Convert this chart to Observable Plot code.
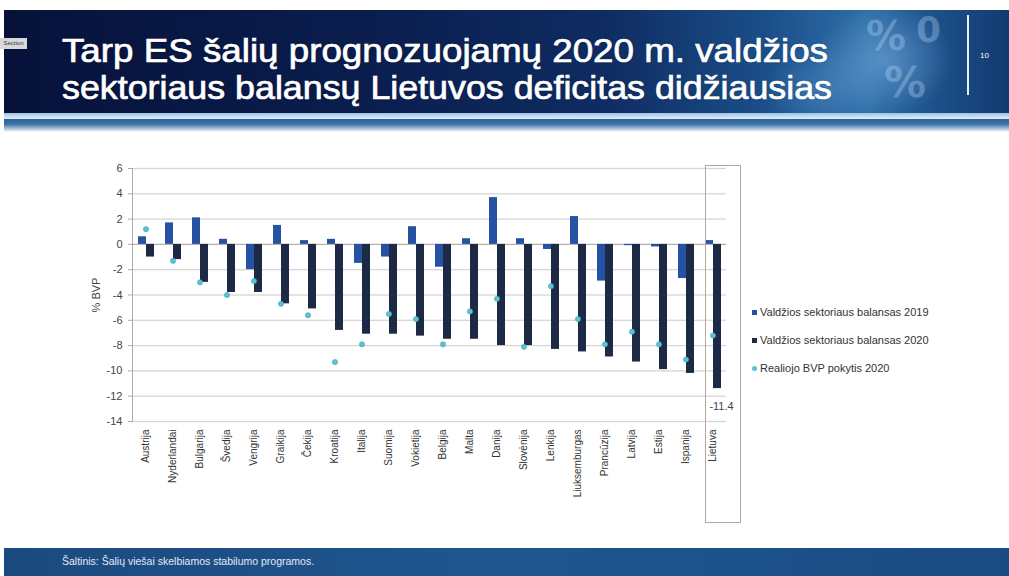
<!DOCTYPE html>
<html><head><meta charset="utf-8">
<script src="https://cdn.jsdelivr.net/npm/d3@7"></script>
<script src="https://cdn.jsdelivr.net/npm/@observablehq/plot@0.6"></script>
<style>
html,body{margin:0;padding:0;background:#fff;}
#page{position:relative;width:1009px;height:576px;overflow:hidden;font-family:"Liberation Sans",Arial,sans-serif;background:#fff;}
#header{position:absolute;left:4px;top:10px;width:1005px;height:104px;overflow:hidden;
 background:
  radial-gradient(ellipse 70px 55px at 880px 50px, rgba(120,175,225,0.55), rgba(120,175,225,0) 100%),
  radial-gradient(ellipse 60px 45px at 820px 80px, rgba(90,150,210,0.45), rgba(90,150,210,0) 100%),
  linear-gradient(90deg,#06123a 0%,#0a1d4d 35%,#0f2c62 60%,#1b4f8a 76%,#2f6ea8 86%,#1c4f88 93%,#123a70 100%);}
#glow{position:absolute;left:4px;top:113px;width:1005px;height:6px;background:linear-gradient(180deg,#9fc3e3,#dfeefa);}
#band{position:absolute;left:4px;top:119px;width:1005px;height:13px;background:linear-gradient(180deg,#2c6296,#3d73a6 40%,#c9d9e8 85%,#fff);}
.deco{position:absolute;color:rgba(185,215,245,0.35);font-family:"DejaVu Sans",sans-serif;font-weight:bold;line-height:1;}
.title{position:absolute;left:62px;color:#fff;font-family:"Liberation Sans",Arial,sans-serif;font-weight:normal;font-size:32.5px;line-height:normal;white-space:nowrap;transform-origin:0 0;-webkit-text-stroke:0.7px #fff;text-shadow:0 0 2px rgba(0,0,0,0.4);}
#sect{position:absolute;left:0;top:38px;width:27px;height:11px;background:#d8d8d8;color:#333;font-size:6px;line-height:11px;text-align:center;}
#vline{position:absolute;left:967px;top:15px;width:2px;height:80px;background:#e8eef5;}
#pnum{position:absolute;left:980px;top:51px;color:#fff;font-size:8px;}
#chart{position:absolute;left:60px;top:150px;}
#box{position:absolute;border:1.5px solid #b7a49c;box-sizing:border-box;}
#legend{position:absolute;left:752px;top:305px;font-size:11px;color:#333;}
.li{position:relative;height:28px;line-height:14px;white-space:nowrap;}
.sw{display:inline-block;width:5px;height:5px;margin-right:3px;vertical-align:1px;}
#footer{position:absolute;left:4px;top:548px;width:1005px;height:28px;background:linear-gradient(90deg,#1b4a7f,#1f568f 50%,#1a4b82);}
#ftext{position:absolute;left:62px;top:555px;color:#e2ebf3;font-size:10.5px;}
</style></head>
<body><div id="page">
<div id="header">
 <div class="deco" style="left:862px;top:6px;font-size:40px;">%</div>
 <div class="deco" style="left:912px;top:2px;font-size:36px;">0</div>
 <div class="deco" style="left:880px;top:52px;font-size:42px;">%</div>
</div>
<div id="glow"></div><div id="band"></div>
<div id="sect">Section</div>
<div id="vline"></div><div id="pnum">10</div>
<div class="title" id="t1" style="top:32.5px;">Tarp ES šalių prognozuojamų 2020 m. valdžios</div>
<div class="title" id="t2" style="top:69.5px;">sektoriaus balansų Lietuvos deficitas didžiausias</div>
<div id="chart"></div>
<div id="legend"></div>
<div id="footer"></div>
<div id="ftext">Šaltinis: Šalių viešai skelbiamos stabilumo programos.</div>
</div>
<script>
const countries = ["Austrija","Nyderlandai","Bulgarija","Švedija","Vengrija","Graikija","Čekija","Kroatija","Italija","Suomija","Vokietija","Belgija","Malta","Danija","Slovėnija","Lenkija","Liuksemburgas","Prancūzija","Latvija","Estija","Ispanija","Lietuva"];
const bal2019 = [0.6, 1.7, 2.1, 0.4, -2.0, 1.5, 0.3, 0.4, -1.5, -1.0, 1.4, -1.8, 0.45, 3.7, 0.45, -0.4, 2.2, -2.9, -0.1, -0.2, -2.7, 0.3];
const bal2020 = [-1.0, -1.2, -3.0, -3.8, -3.8, -4.7, -5.1, -6.8, -7.1, -7.1, -7.25, -7.5, -7.5, -8.0, -8.0, -8.3, -8.5, -8.9, -9.3, -9.9, -10.2, -11.4];
const gdp2020 = [1.2, -1.3, -3.0, -4.0, -2.9, -4.7, -5.6, -9.3, -7.9, -5.5, -5.9, -7.9, -5.3, -4.3, -8.1, -3.3, -5.9, -7.9, -6.9, -7.9, -9.1, -7.2];
const seriesNames = ["Valdžios sektoriaus balansas 2019","Valdžios sektoriaus balansas 2020","Realiojo BVP pokytis 2020"];
const seriesColors = ["#2552a3","#1d2a45","#5cc3d4"];
const yTicks = [6,4,2,0,-2,-4,-6,-8,-10,-12,-14];

const bars = countries.flatMap((c,i)=>[
  {country:c, series:seriesNames[0], value:bal2019[i]},
  {country:c, series:seriesNames[1], value:bal2020[i]}
]);
const dots = countries.map((c,i)=>({country:c, series:seriesNames[2], value:gdp2020[i]}));
const lastLabel = bars.filter(d=>d.country==="Lietuva" && d.series===seriesNames[1]);

const chart = Plot.plot({
  width:700, height:380, marginTop:18, marginBottom:109, marginLeft:71, marginRight:33,
  style:{fontFamily:"Liberation Sans, Arial, sans-serif", fontSize:"10px", color:"#333", background:"transparent", overflow:"visible"},
  fx:{domain:countries, padding:0, label:null},
  x:{domain:seriesNames.slice(0,2), paddingInner:0, paddingOuter:0.65, axis:null},
  y:{domain:[-14,6]},
  color:{domain:seriesNames, range:seriesColors},
  marks:[
    Plot.gridY(yTicks, {stroke:"#d6d6d6", strokeOpacity:1, strokeWidth:1.3}),
    Plot.ruleY([0], {stroke:"#b8aca4", strokeWidth:1}),
    Plot.barY(bars, {fx:"country", x:"series", y:"value", fill:"series"}),
    Plot.dot(dots, {fx:"country", y:"value", r:2.6, fill:seriesColors[2], stroke:"#45a2b5", strokeWidth:0.6}),
    Plot.text(lastLabel, {fx:"country", x:"series", y:"value", text:d=>d.value.toFixed(1), dy:18, dx:4, fontSize:11, fill:"#444"}),
    Plot.frame({anchor:"left", facetAnchor:"left", stroke:"#aaa"}),
    Plot.axisY(yTicks, {anchor:"left", tickFormat:d=>String(d), tickSize:4, tickPadding:6, fontSize:11, stroke:"#aaa", fill:"#444",
      label:"% BVP", labelAnchor:"center", labelArrow:"none", labelOffset:40}),
    Plot.axisFx({anchor:"bottom", tickRotate:-90, tickSize:0, tickPadding:8, fontSize:10, fill:"#333", label:null})
  ]
});
document.getElementById("chart").appendChild(chart);

// highlight box around Lietuva, positioned from the fx scale
const fxs = chart.scale("fx");
const bx = fxs.apply("Lietuva");
const box = document.createElement("div");
box.id = "box";
box.style.left = (60 + bx + 6) + "px";
box.style.width = (fxs.bandwidth + 9) + "px";
box.style.top = "165px";
box.style.height = "358px";
document.getElementById("page").appendChild(box);

// legend
const lg = document.getElementById("legend");
seriesNames.forEach((s,i)=>{
  const row = document.createElement("div"); row.className="li";
  const sw = document.createElement("span"); sw.className="sw"; sw.style.background=seriesColors[i];
  if(i===2) sw.style.borderRadius="50%";
  row.appendChild(sw); row.appendChild(document.createTextNode(s));
  lg.appendChild(row);
});

// fit title lines to reference width
["t1","t2"].forEach((id,i)=>{
  const el = document.getElementById(id);
  const w = el.getBoundingClientRect().width;
  const target = i===0 ? 766 : 770;
  el.style.transform = `scaleX(${target/w})`;
});
</script>
</body></html>
